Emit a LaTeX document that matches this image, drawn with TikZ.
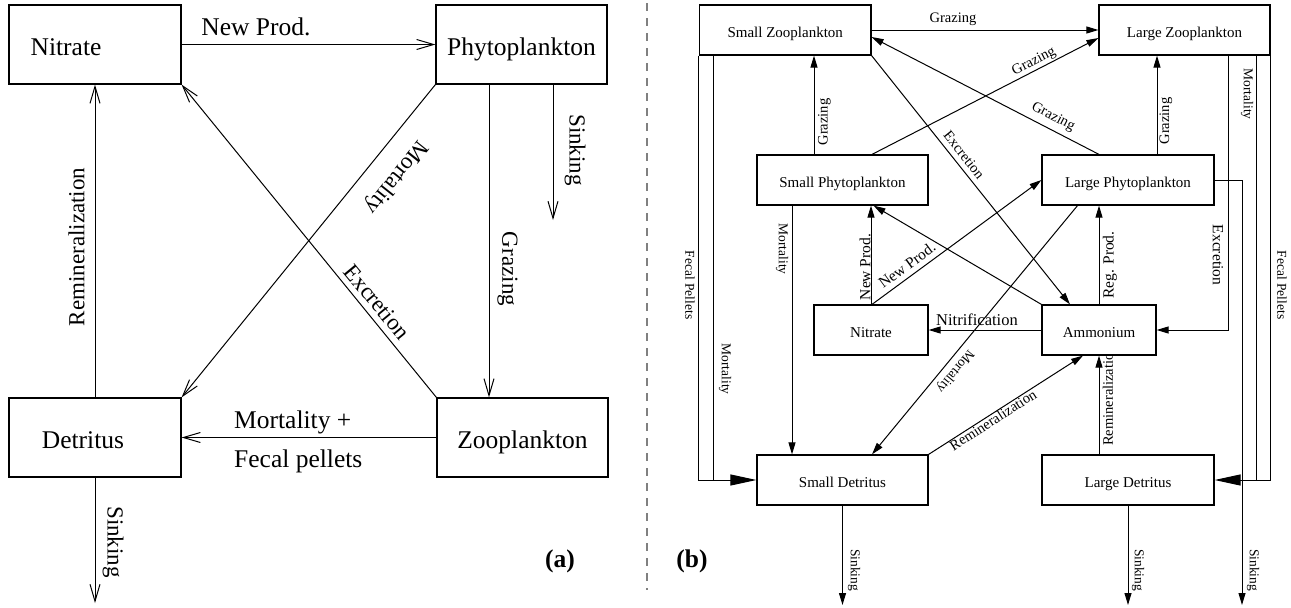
\documentclass[tikz,border=0pt]{standalone}
\usepackage{fontspec}
\setmainfont{Liberation Serif}
\usetikzlibrary{arrows.meta}
\newcommand\fsz[1]{\fontsize{#1pt}{#1pt}\selectfont}
\pgfdeclarelayer{bgl}
\pgfsetlayers{bgl,main}
\begin{document}
\begin{tikzpicture}[x=1pt,y=-1pt,line width=1pt,
 boxL/.style={draw,line width=1.2pt,fill=white,inner sep=0pt,minimum width=172pt,minimum height=79pt,font=\fsz{25.5},text height=21pt,text depth=0pt},
 boxR/.style={draw,line width=1.2pt,fill=white,inner sep=0pt,minimum height=50pt,font=\fsz{15},text height=15pt,text depth=0pt},
 aL/.style={-{Straight Barb[length=17pt,width=10pt,line width=1pt]}},
 aR/.style={-{Triangle[length=12pt,width=7pt]}},
 aB/.style={-{Triangle[length=26pt,width=11pt]}},
 tL/.style={font=\fsz{25.5},inner sep=0pt},
 tLr/.style={font=\fsz{23},inner sep=0pt},
 tR/.style={font=\fsz{14.5},inner sep=0pt},
 tRs/.style={font=\fsz{13.5},inner sep=0pt},
 tRb/.style={font=\fsz{15.5},inner sep=0pt},
 sep/.style={gray,line width=1.5pt,dash pattern=on 8pt off 7pt}
]
\useasboundingbox (0,0) rectangle (1291,608);

% ---------- boxes, panel (a)
\node[boxL] (nitL) at (95,44.5) {Nitrate\hspace*{58pt}};
\node[boxL,minimum width=171pt] (phyL) at (521.5,44.5) {Phytoplankton};
\node[boxL] (detL) at (95,437.5) {Detritus\hspace*{24pt}};
\node[boxL,minimum width=171pt] (zooL) at (522.5,437.5) {Zooplankton};

% ---------- boxes, panel (b)
\node[boxR,minimum width=171.5pt] (sz) at (785.25,30) {Small Zooplankton};
\node[boxR,minimum width=171pt] (lz) at (1184.5,30) {Large Zooplankton};
\node[boxR,minimum width=171pt] (sp) at (842.5,180) {Small Phytoplankton};
\node[boxR,minimum width=172pt] (lp) at (1128,180) {Large Phytoplankton};
\node[boxR,minimum width=114pt] (nitR) at (871,330) {Nitrate};
\node[boxR,minimum width=114pt] (amm) at (1099,330) {Ammonium};
\node[boxR,minimum width=171pt] (sd) at (842.5,480) {Small Detritus};
\node[boxR,minimum width=172pt] (ld) at (1128,480) {Large Detritus};

\coordinate (sinkPL) at (553,220);
\coordinate (sinkDL) at (95,603);
\coordinate (sinkSD) at (842.5,605);
\coordinate (sinkLD) at (1128,605);
\coordinate (sinkLP) at (1242,605);
\coordinate (sepTop) at (647,3);
\coordinate (sepBot) at (647,590);

\draw[sep] (sepTop) -- (sepBot);

% ---------- connectors, panel (a)
\draw[aL] (nitL.east) -- (phyL.west);
\draw[aL] (detL.north) -- (nitL.south);
\draw[aL] (zooL.west) -- (detL.east);
\draw[aL] ([xshift=-32.5pt]phyL.south) -- ([xshift=-32.5pt]phyL.south |- zooL.north);
\draw[aL] ([xshift=31.5pt]phyL.south) -- (sinkPL);
\draw[aL] (phyL.south west) -- (detL.north east);
\draw[aL] (zooL.north west) -- (nitL.south east);
\draw[aL] (detL.south) -- (sinkDL);

% ---------- connectors, panel (b)
\draw[aR] (sz.east) -- (lz.west);
\draw[aR] ([xshift=-28.5pt]sp.north) -- ([xshift=-28.5pt]sp.north |- sz.south);
\draw[aR] ([xshift=29pt]lp.north) -- ([xshift=29pt]lp.north |- lz.south);
\draw[aR] ([xshift=29.5pt]sp.north) -- ([yshift=-8pt]lz.west);
\draw[aR] ([xshift=-29pt]lp.north) -- ([yshift=-7pt]sz.east);
\draw[aR] (sz.south east) -- ([xshift=-29pt]amm.north);
\draw[aR] (nitR.north) -- (nitR.north |- sp.south);
\draw[aR] ([xshift=1pt]nitR.north) -- (lp.west);
\draw[aR] (amm.north west) -- ([xshift=31pt]sp.south);
\draw[aR] (amm.north) -- (amm.north |- lp.south);
\draw[aR] (amm.west) -- (nitR.east);
\draw[aR] ([xshift=-50.5pt]lp.south) -- ([xshift=29.5pt]sd.north);
\draw[aR] (sd.north east) -- ([xshift=-16pt]amm.south);
\draw[aR] (amm.south |- ld.north) -- (amm.south);
\draw[aR] ([xshift=43.5pt]lz.south) |- (amm.east);
\draw ([xshift=71.5pt]lz.south) -- ([xshift=71.5pt]lz.south |- ld.east);
\draw[aB] (lz.south east) |- (ld.east);
\draw ([xshift=14.5pt]sz.south west) -- ([xshift=14.5pt]sz.south west |- sd.west);
\draw[aB] (sz.south west) |- (sd.west);
\draw[aR] ([xshift=-50.5pt]sp.south) -- ([xshift=-50.5pt]sp.south |- sd.north);
\draw[aR] (lp.east) -| (sinkLP);
\draw[aR] (sd.south) -- (sinkSD);
\draw[aR] (ld.south) -- (sinkLD);

% ---------- labels
\begin{pgfonlayer}{bgl}
\node[tL,anchor=base] (lNewProd) at (256,35) {New Prod.};
\node[tL,anchor=base west] (lMortP) at (234,428) {Mortality +};
\node[tL,anchor=base west] (lFecal) at (234,467) {Fecal pellets};
\node[tLr,rotate=90] (lRemin) at (76.5,247) {Remineralization};
\node[tLr,rotate=-90] (lGraz) at (507.5,269) {Grazing};
\node[tLr,rotate=-90] (lSinkP) at (575,150) {Sinking};
\node[tLr,rotate=-90] (lSinkD) at (113,542) {Sinking};
\node[tLr,rotate=-128.5] (lMort) at (396,177) {Mortality};
\node[tLr,rotate=-50.5] (lExcr) at (377,302) {Excretion};
\node[font=\fsz{25.5}\bfseries,inner sep=0pt,anchor=base] (la) at (560,567) {(a)};

\node[tR,anchor=base] (rGrazTop) at (953,22.5) {Grazing};
\node[tR,rotate=90] (rGrazSP) at (824.5,122) {Grazing};
\node[tR,rotate=90] (rGrazLP) at (1166,121) {Grazing};
\node[tRs,rotate=-90] (rMortLZ) at (1247,94) {Mortality};
\node[tR,rotate=27.3] (rGrazSPLZ) at (1034,62) {Grazing};
\node[tR,rotate=-27.6] (rGrazLPSZ) at (1053,117) {Grazing};
\node[tR,rotate=-51.5] (rExcrSZ) at (964,155) {Excretion};
\node[tRs,rotate=-90] (rFecalL) at (690,285) {Fecal Pellets};
\node[tRs,rotate=-90] (rFecalR) at (1282,285) {Fecal Pellets};
\node[tRs,rotate=-90] (rMortSZ) at (725,369) {Mortality};
\node[tRs,rotate=-90] (rMortSP) at (782,249) {Mortality};
\node[tRb,rotate=90] (rNewV) at (865,267) {New Prod.};
\node[tRb,rotate=36.3] (rNewD) at (907,265) {New Prod.};
\node[font=\fsz{16.5},inner sep=0pt,anchor=base] (rNitrif) at (977,325) {Nitrification};
\node[tRb,rotate=90] (rReg) at (1110,265) {Reg. Prod.};
\node[tRb,rotate=-90] (rExcrLZ) at (1218,255) {Excretion};
\node[tRs,rotate=-129.4] (rMortLP) at (955,371) {Mortality};
\node[tR,rotate=32.8] (rReminD) at (993,420) {Remineralization};
\node[tR,rotate=90] (rReminV) at (1108,396) {Remineralization};
\node[tRs,rotate=-90] (rSinkSD) at (854,570) {Sinking};
\node[tRs,rotate=-90] (rSinkLD) at (1138,570) {Sinking};
\node[tRs,rotate=-90] (rSinkLP) at (1253,570) {Sinking};
\node[font=\fsz{25.5}\bfseries,inner sep=0pt,anchor=base] (lb) at (692,567) {(b)};
\end{pgfonlayer}
\end{tikzpicture}
\end{document}
